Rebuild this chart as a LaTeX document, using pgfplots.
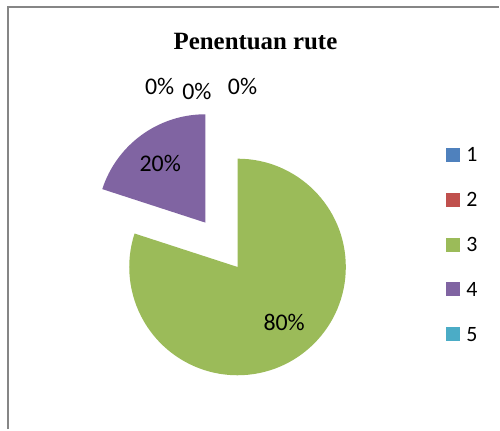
\documentclass[border=0pt]{standalone}
\usepackage{fontspec}
\setmainfont{Carlito}
\newfontfamily\titlefont{Liberation Serif}
\usepackage{pgfplots}
\pgfplotsset{compat=1.18}
\usepackage{pgfplotstable}
\usetikzlibrary{calc}
\definecolor{c1}{HTML}{4F81BD}
\definecolor{c2}{HTML}{C0504D}
\definecolor{c3}{HTML}{9BBB59}
\definecolor{c4}{HTML}{8064A2}
\definecolor{c5}{HTML}{4BACC6}
\definecolor{framegray}{HTML}{868686}
% pie data: category, percent
\def\valC{80}
\def\valD{20}
\pgfmathsetmacro{\endC}{90-3.6*\valC}
\pgfmathsetmacro{\endD}{90+3.6*\valD}
\pgfmathsetmacro{\midD}{90+1.8*\valD}
\begin{document}
\begin{tikzpicture}
\begin{axis}[width=500bp,height=430bp,scale only axis,
  xmin=0,xmax=500,ymin=0,ymax=430,y dir=reverse,hide axis,clip=false]
\addplot[draw=none] coordinates {(0,0) (500,430)};
% frame
\draw[framegray, line width=2bp] (axis cs:8,430) -- (axis cs:8,7) -- (axis cs:500,7);
% title
\node[anchor=base,font=\titlefont\bfseries\fontsize{25}{25}\selectfont] at (axis cs:256,49.3) {Penentuan rute};
% slices
\fill[c3] (axis cs:238,267.5) -- ++(90:108.5bp) arc[start angle=90,end angle=\endC,radius=108.5bp] -- cycle;
\fill[c4] ($(axis cs:238,267.5)+(\midD:55bp)$) -- ++(90:108.5bp) arc[start angle=90,end angle=\endD,radius=108.5bp] -- cycle;
% data labels
\node[anchor=base,inner sep=0,font=\fontsize{24}{24}\selectfont] at (axis cs:160,95) {0\%};
\node[anchor=base,inner sep=0,font=\fontsize{24}{24}\selectfont] at (axis cs:197.3,100) {0\%};
\node[anchor=base,inner sep=0,font=\fontsize{24}{24}\selectfont] at (axis cs:243,95) {0\%};
\node[anchor=base,inner sep=0,font=\fontsize{24}{24}\selectfont] at (axis cs:160.5,171.7) {20\%};
\node[anchor=base,inner sep=0,font=\fontsize{24}{24}\selectfont] at (axis cs:284.7,330.7) {80\%};
% legend
\fill[c1] (axis cs:446.7,148.3) rectangle (axis cs:460.7,162.3);
\fill[c2] (axis cs:446.7,193.2) rectangle (axis cs:460.7,207.2);
\fill[c3] (axis cs:446.7,238.1) rectangle (axis cs:460.7,252.1);
\fill[c4] (axis cs:446.7,283.0) rectangle (axis cs:460.7,297.0);
\fill[c5] (axis cs:446.7,327.9) rectangle (axis cs:460.7,341.9);
\node[anchor=base west,inner sep=0,font=\fontsize{22}{22}\selectfont] at (axis cs:467,162.3) {1};
\node[anchor=base west,inner sep=0,font=\fontsize{22}{22}\selectfont] at (axis cs:467,207.2) {2};
\node[anchor=base west,inner sep=0,font=\fontsize{22}{22}\selectfont] at (axis cs:467,252.1) {3};
\node[anchor=base west,inner sep=0,font=\fontsize{22}{22}\selectfont] at (axis cs:467,297.0) {4};
\node[anchor=base west,inner sep=0,font=\fontsize{22}{22}\selectfont] at (axis cs:467,341.9) {5};
\end{axis}
\end{tikzpicture}
\end{document}
